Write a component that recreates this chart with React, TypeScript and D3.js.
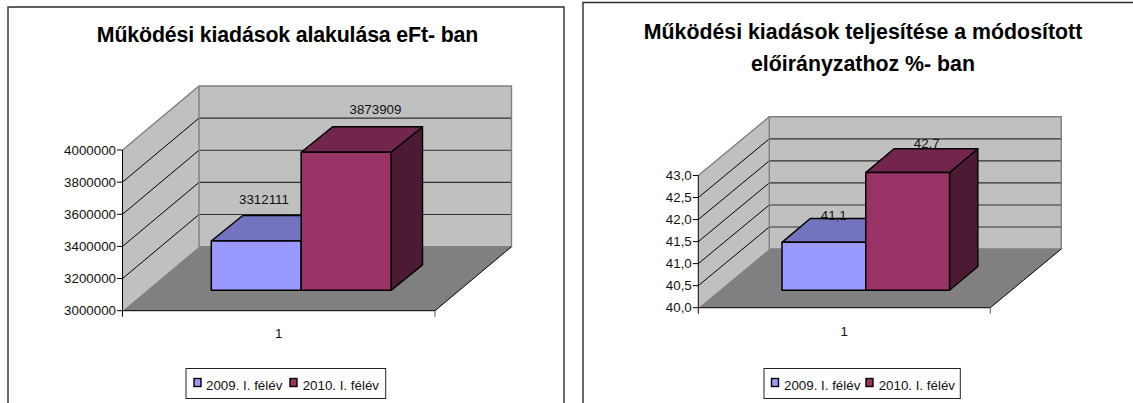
import React from "react";
import * as d3 from "d3";

const categories = ["1"];
const seriesNames = ["2009. I. félév", "2010. I. félév"];
const spendingValues = [3312111, 3873909];
const spendingLabels = ["3312111", "3873909"];
const spendingTicks = [3000000, 3200000, 3400000, 3600000, 3800000, 4000000];
const spendingTickLabels = ["3000000", "3200000", "3400000", "3600000", "3800000", "4000000"];
const percentValues = [41.1, 42.7];
const percentLabels = ["41,1", "42,7"];
const percentTicks = [40, 40.5, 41, 41.5, 42, 42.5, 43];
const percentTickLabels = ["40,0", "40,5", "41,0", "41,5", "42,0", "42,5", "43,0"];
const titleLeft = ["Működési kiadások alakulása eFt- ban"];
const titleRight = ["Működési kiadások teljesítése a módosított", "előirányzathoz %- ban"];

const faceColors = [
  { front: "#9999ff", top: "#7373bf", side: "#4d4d80" },
  { front: "#993366", top: "#73264d", side: "#4d1a33" },
];
const FONT = "'Liberation Sans', Arial, sans-serif";

type Spec = {
  frame: { x0: number; x1: number; top: number };
  title: string[];
  titleX: number;
  titleY: number[];
  titleSpacing: number;
  values: number[];
  labels: string[];
  ticks: number[];
  tickLabels: string[];
  axisX: number;
  floorRight: number;
  yBottom: number;
  yTop: number;
  depthX: number;
  depthY: number;
  barX: [number, number];
  barBottom: number;
  barMaxHeight: number;
  barDepthX: number;
  barDepthY: number;
  labelPos: [number, number][];
  catPos: [number, number];
  legend: { x0: number; x1: number; swatch: [number, number]; text: [number, number]; swatchW: number };
};

function Chart({ s }: { s: Spec }) {
  const domain = d3.extent(s.ticks) as [number, number];
  const y = d3.scaleLinear().domain(domain).range([s.yBottom, s.yTop]);
  const h = d3.scaleLinear().domain(domain).range([0, s.barMaxHeight]);
  const xBar = d3.scaleBand<string>().domain(seriesNames).range(s.barX).padding(0);
  const xCat = d3.scaleBand<string>().domain(categories).range([s.axisX, s.floorRight]);
  const line = d3.line();
  const poly = (p: [number, number][]) => line(p)! + "Z";
  const { axisX: ax, floorRight: fr, depthX: dx, depthY: dy, yTop, yBottom: yb } = s;
  const backL = ax + dx;
  const backR = fr + dx;
  const bw = xBar.bandwidth();

  return (
    <g fontFamily={FONT} fill="#000">
      <path
        d={`M${s.frame.x0},403V${s.frame.top}H${s.frame.x1}${s.frame.x1 < 1133 ? "V403" : ""}`}
        fill="none"
        stroke="#2b2b2b"
        strokeWidth={1.4}
      />
      {s.title.map((t, i) => (
        <text key={t} x={s.titleX} y={s.titleY[i]} textAnchor="middle" fontWeight="bold" fontSize={21.33} letterSpacing={s.titleSpacing}>
          {t}
        </text>
      ))}

      {/* walls and floor */}
      <path d={poly([[ax, yTop], [backL, yTop - dy], [backL, yb - dy], [ax, yb]])} fill="#c0c0c0" />
      <path d={poly([[backL, yTop - dy], [backR, yTop - dy], [backR, yb - dy], [backL, yb - dy]])} fill="#c0c0c0" />
      <path d={poly([[ax, yb], [backL, yb - dy], [backR, yb - dy], [fr, yb]])} fill="#808080" />
      {s.ticks.slice(1, -1).map((t) => (
        <g key={t} fill="none">
          <path d={line([[ax, y(t)], [backL, y(t) - dy]])!} stroke="#000" strokeWidth={1} />
          <path d={line([[backL, y(t) - dy], [backR, y(t) - dy]])!} stroke="#303030" strokeWidth={1.1} />
        </g>
      ))}
      <path
        d={line([[ax, yTop], [backL, yTop - dy], [backR, yTop - dy], [backR, yb - dy]])!}
        fill="none"
        stroke="#808080"
        strokeWidth={1.4}
      />
      <path d={line([[backL, yTop - dy], [backL, yb - dy], [backR, yb - dy]])!} fill="none" stroke="#808080" strokeWidth={1.4} />
      <path d={line([[ax, yb], [fr, yb], [backR, yb - dy]])!} fill="none" stroke="#000" strokeWidth={1} />
      <path d={line([[fr, yb], [fr, yb + 6]])!} fill="none" stroke="#555" strokeWidth={1} />

      {/* value axis */}
      <path d={line([[ax, yTop], [ax, yb + 6]])!} fill="none" stroke="#000" strokeWidth={1} />
      {s.ticks.map((t, i) => (
        <g key={t}>
          <path d={line([[ax - 5.5, y(t)], [ax, y(t)]])!} stroke="#000" strokeWidth={1} fill="none" />
          <text x={ax - 6.5} y={y(t) + 4.7} textAnchor="end" fontSize={13.33} fill="#111">
            {s.tickLabels[i]}
          </text>
        </g>
      ))}

      {/* bars */}
      {seriesNames.map((name, i) => {
        const x0 = xBar(name)!;
        const x1 = x0 + bw;
        const top = s.barBottom - h(s.values[i]);
        const bot = s.barBottom;
        const ddx = s.barDepthX;
        const ddy = s.barDepthY;
        const c = faceColors[i];
        return (
          <g key={name} stroke="#000" strokeWidth={1.5} strokeLinejoin="round">
            <path d={poly([[x1, top], [x1 + ddx, top - ddy], [x1 + ddx, bot - ddy], [x1, bot]])} fill={c.side} />
            <path d={poly([[x0, top], [x0 + ddx, top - ddy], [x1 + ddx, top - ddy], [x1, top]])} fill={c.top} />
            <path d={poly([[x0, top], [x1, top], [x1, bot], [x0, bot]])} fill={c.front} />
          </g>
        );
      })}

      {s.labels.map((l, i) => (
        <text key={l} x={s.labelPos[i][0]} y={s.labelPos[i][1]} textAnchor="middle" fontSize={13.33} fill="#111">
          {l}
        </text>
      ))}
      <text x={xCat(categories[0])! + xCat.bandwidth() / 2} y={s.catPos[1]} textAnchor="middle" fontSize={13.33} fill="#111">
        {categories[0]}
      </text>

      {/* legend */}
      <rect x={s.legend.x0} y={368.5} width={s.legend.x1 - s.legend.x0} height={30} fill="#fff" stroke="#222" strokeWidth={1} />
      {seriesNames.map((name, i) => (
        <g key={name}>
          <rect x={s.legend.swatch[i]} y={378.5} width={s.legend.swatchW} height={8} fill={faceColors[i].front} stroke="#000" strokeWidth={1.4} />
          <text x={s.legend.text[i]} y={390} fontSize={13.33} fill="#111">
            {name}
          </text>
        </g>
      ))}
    </g>
  );
}

const leftSpec: Spec = {
  frame: { x0: 8, x1: 564, top: 7 },
  title: titleLeft,
  titleX: 287.5,
  titleY: [41.5],
  titleSpacing: -0.14,
  values: spendingValues,
  labels: spendingLabels,
  ticks: spendingTicks,
  tickLabels: spendingTickLabels,
  axisX: 122.5,
  floorRight: 435,
  yBottom: 310.7,
  yTop: 150,
  depthX: 76.5,
  depthY: 64,
  barX: [211.3, 391],
  barBottom: 290.3,
  barMaxHeight: 158,
  barDepthX: 31.5,
  barDepthY: 25.5,
  labelPos: [[264, 204], [375.5, 114]],
  catPos: [279.3, 338],
  legend: { x0: 186, x1: 385.7, swatch: [194, 290], text: [206, 302.7], swatchW: 7 },
};

const rightSpec: Spec = {
  frame: { x0: 583, x1: 1140, top: 2.5 },
  title: titleRight,
  titleX: 863,
  titleY: [39, 70.7],
  titleSpacing: 0,
  values: percentValues,
  labels: percentLabels,
  ticks: percentTicks,
  tickLabels: percentTickLabels,
  axisX: 698.3,
  floorRight: 990.3,
  yBottom: 307.7,
  yTop: 175.5,
  depthX: 71,
  depthY: 58.7,
  barX: [782, 949.5],
  barBottom: 290.3,
  barMaxHeight: 130.8,
  barDepthX: 28.3,
  barDepthY: 23.8,
  labelPos: [[833.8, 220], [926.7, 148]],
  catPos: [844.3, 336],
  legend: { x0: 764, x1: 960.3, swatch: [771.5, 866], text: [784, 878.7], swatchW: 7 },
};

export default function App() {
  return (
    <svg
      width={1133}
      height={403}
      viewBox="0 0 1133 403"
      style={{ position: "absolute", left: 0, top: 0, background: "#fff" }}
    >
      <Chart s={leftSpec} />
      <Chart s={rightSpec} />
    </svg>
  );
}
